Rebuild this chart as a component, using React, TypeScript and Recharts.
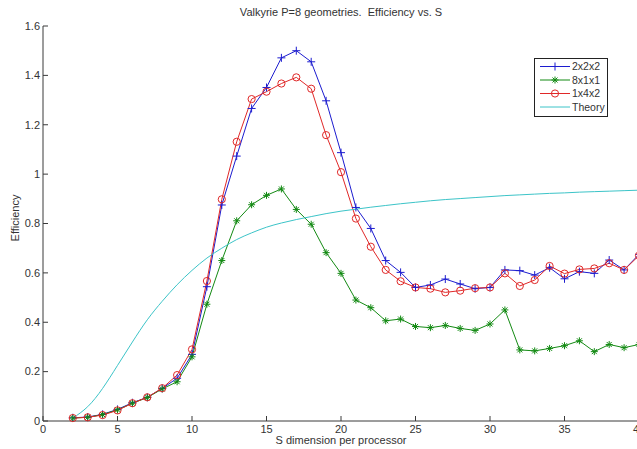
import { LineChart, Line, XAxis, YAxis, Legend } from "recharts";

const sValues = [
  2, 3, 4, 5, 6, 7, 8, 9, 10, 11, 12, 13, 14, 15, 16, 17, 18, 19, 20, 21,
  22, 23, 24, 25, 26, 27, 28, 29, 30, 31, 32, 33, 34, 35, 36, 37, 38, 39, 40,
];

const eff2x2x2 = [
  0.013, 0.016, 0.027, 0.047, 0.074, 0.096, 0.132, 0.173, 0.27, 0.544,
  0.875, 1.073, 1.266, 1.351, 1.471, 1.5, 1.455, 1.297, 1.087, 0.865,
  0.78, 0.65, 0.602, 0.541, 0.551, 0.575, 0.555, 0.536, 0.541, 0.612,
  0.609, 0.591, 0.621, 0.576, 0.605, 0.598, 0.652, 0.612, 0.675,
];

const eff8x1x1 = [
  0.012, 0.015, 0.026, 0.045, 0.072, 0.095, 0.13, 0.159, 0.26, 0.473,
  0.65, 0.811, 0.876, 0.914, 0.94, 0.857, 0.797, 0.682, 0.598, 0.49,
  0.459, 0.406, 0.413, 0.383, 0.378, 0.387, 0.375, 0.367, 0.393, 0.45,
  0.288, 0.284, 0.294, 0.305, 0.325, 0.281, 0.31, 0.297, 0.31,
];

const eff1x4x2 = [
  0.012, 0.015, 0.024, 0.043, 0.072, 0.096, 0.133, 0.186, 0.29, 0.567,
  0.898, 1.131, 1.304, 1.334, 1.367, 1.392, 1.346, 1.158, 1.008, 0.82,
  0.706, 0.612, 0.566, 0.541, 0.536, 0.521, 0.528, 0.538, 0.541, 0.598,
  0.547, 0.571, 0.628, 0.597, 0.614, 0.618, 0.639, 0.612, 0.67,
];

const theory = [
  0.012, 0.058, 0.132, 0.225, 0.32, 0.41, 0.485, 0.552, 0.61, 0.66,
  0.7, 0.735, 0.762, 0.785, 0.802, 0.816, 0.828, 0.84, 0.85, 0.858,
  0.866, 0.873, 0.88, 0.886, 0.892, 0.897, 0.901, 0.905, 0.909, 0.913,
  0.916, 0.919, 0.922, 0.924, 0.927, 0.929, 0.931, 0.933, 0.935,
];

const xTicks = [0, 5, 10, 15, 20, 25, 30, 35, 40];
const yTicks = [0, 0.2, 0.4, 0.6, 0.8, 1, 1.2, 1.4, 1.6];

const data = sValues.map((s, i) => ({
  s,
  a: eff2x2x2[i],
  b: eff8x1x1[i],
  c: eff1x4x2[i],
  t: theory[i],
}));

const FONT = "'Liberation Sans Narrow', 'Liberation Sans', Arial, sans-serif";
const AXIS = "#3a3a3a";
const TEXT = "#333";
const BLUE = "#1c1ccf";
const GREEN = "#138a13";
const RED = "#e02828";
const CYAN = "#3cc4c8";

// marker glyphs, MATLAB style
const plusMark = (cx: number, cy: number, color: string) => (
  <g stroke={color} strokeWidth={1}>
    <line x1={cx - 4} y1={cy} x2={cx + 4} y2={cy} />
    <line x1={cx} y1={cy - 4} x2={cx} y2={cy + 4} />
  </g>
);

const starMark = (cx: number, cy: number, color: string) => (
  <g stroke={color} strokeWidth={1}>
    <line x1={cx - 3.5} y1={cy} x2={cx + 3.5} y2={cy} />
    <line x1={cx} y1={cy - 3.5} x2={cx} y2={cy + 3.5} />
    <line x1={cx - 2.5} y1={cy - 2.5} x2={cx + 2.5} y2={cy + 2.5} />
    <line x1={cx - 2.5} y1={cy + 2.5} x2={cx + 2.5} y2={cy - 2.5} />
  </g>
);

const circleMark = (cx: number, cy: number, color: string) => (
  <circle cx={cx} cy={cy} r={3.6} fill="none" stroke={color} strokeWidth={1} />
);

const series = [
  { key: "a", name: "2x2x2", color: BLUE, mark: plusMark },
  { key: "b", name: "8x1x1", color: GREEN, mark: starMark },
  { key: "c", name: "1x4x2", color: RED, mark: circleMark },
  { key: "t", name: "Theory", color: CYAN, mark: null },
];

const dotFor = (mark: any, color: string) => (p: any) => {
  if (p.cx == null || p.cy == null) return <g key={`d${p.index}`} />;
  return <g key={`d${p.index}`}>{mark(p.cx, p.cy, color)}</g>;
};

const BottomTick = ({ x, y, payload }: any) => (
  <g>
    <line x1={x} y1={y} x2={x} y2={y - 5} stroke={AXIS} />
    <text x={x} y={y + 12} textAnchor="middle" fontSize={11} fill={TEXT} fontFamily={FONT}>
      {payload.value}
    </text>
  </g>
);

const TopTick = ({ x, y }: any) => (
  <line x1={x} y1={y} x2={x} y2={y + 5} stroke={AXIS} />
);

const LeftTick = ({ x, y, payload }: any) => (
  <g>
    <line x1={x} y1={y} x2={x + 5} y2={y} stroke={AXIS} />
    <text x={x - 3} y={y} dy="0.35em" textAnchor="end" fontSize={11} fill={TEXT} fontFamily={FONT}>
      {payload.value}
    </text>
  </g>
);

const RightTick = ({ x, y }: any) => (
  <line x1={x} y1={y} x2={x - 5} y2={y} stroke={AXIS} />
);

const LegendBox = () => (
  <svg width={74} height={59} style={{ display: "block" }}>
    <rect x={0.5} y={0.5} width={73} height={58} fill="#fff" stroke="#222" />
    {series.map((s, i) => {
      const y = 8.5 + i * 13.5;
      return (
        <g key={s.key}>
          <line x1={6} y1={y} x2={36} y2={y} stroke={s.color} />
          {s.mark ? s.mark(21, y, s.color) : null}
          <text x={38} y={y} dy="0.35em" fontSize={10.5} fill={TEXT} fontFamily={FONT}>
            {s.name}
          </text>
        </g>
      );
    })}
  </svg>
);

export default function App() {
  return (
    <div
      style={{
        position: "absolute",
        left: 0,
        top: 0,
        width: 637,
        height: 449,
        overflow: "hidden",
        background: "#fff",
        fontFamily: FONT,
      }}
    >
      <div
        style={{
          position: "absolute",
          left: 43,
          width: 596,
          top: 6,
          textAlign: "center",
          fontSize: 11,
          color: TEXT,
        }}
      >
        Valkyrie P=8 geometries.&nbsp; Efficiency vs. S
      </div>
      <div
        style={{
          position: "absolute",
          left: 43,
          width: 596,
          top: 434,
          textAlign: "center",
          fontSize: 11,
          color: TEXT,
        }}
      >
        S dimension per processor
      </div>
      <div
        style={{
          position: "absolute",
          left: 15,
          top: 218,
          transform: "translate(-50%, -50%) rotate(-90deg)",
          fontSize: 11,
          color: TEXT,
          whiteSpace: "nowrap",
        }}
      >
        Efficiency
      </div>
      <LineChart
        width={660}
        height={449}
        data={data}
        margin={{ top: 26, right: 21, bottom: 0, left: 0 }}
      >
        <XAxis
          dataKey="s"
          type="number"
          domain={[0, 40]}
          ticks={xTicks}
          height={28}
          tickSize={0}
          tickMargin={0}
          tick={<BottomTick />}
          stroke={AXIS}
          interval={0}
        />
        <XAxis
          xAxisId="top"
          orientation="top"
          dataKey="s"
          type="number"
          domain={[0, 40]}
          ticks={xTicks}
          height={0}
          tickSize={0}
          tickMargin={0}
          tick={<TopTick />}
          stroke={AXIS}
          interval={0}
        />
        <YAxis
          type="number"
          domain={[0, 1.6]}
          ticks={yTicks}
          width={43}
          tickSize={0}
          tickMargin={0}
          tick={<LeftTick />}
          stroke={AXIS}
          interval={0}
        />
        <YAxis
          yAxisId="right"
          orientation="right"
          type="number"
          domain={[0, 1.6]}
          ticks={yTicks}
          width={0}
          tickSize={0}
          tickMargin={0}
          tick={<RightTick />}
          stroke={AXIS}
          interval={0}
        />
        <Legend
          layout="vertical"
          align="center"
          verticalAlign="middle"
          content={() => <LegendBox />}
          wrapperStyle={{ left: 534, top: 58, width: 74, height: 59, margin: 0 }}
        />
        {series.map((s) => (
          <Line
            key={s.key}
            dataKey={s.key}
            name={s.name}
            type={s.mark ? "linear" : "natural"}
            stroke={s.color}
            strokeWidth={1}
            dot={s.mark ? dotFor(s.mark, s.color) : false}
            activeDot={false}
            isAnimationActive={false}
          />
        ))}
      </LineChart>
    </div>
  );
}
